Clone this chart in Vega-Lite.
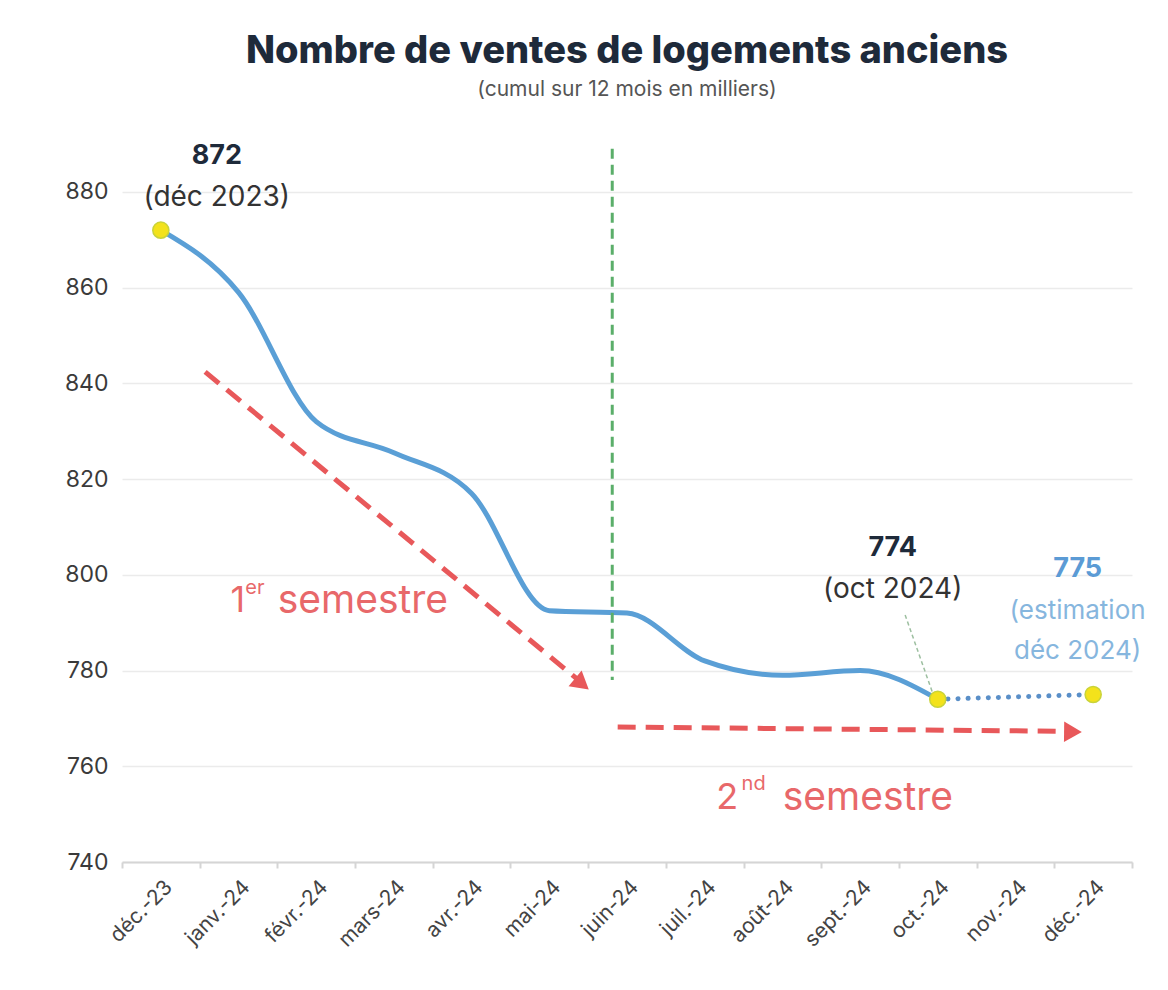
{
  "$schema": "https://vega.github.io/schema/vega-lite/v6.json",
  "width": 1010,
  "height": 718,
  "autosize": "none",
  "padding": {"left": 122, "top": 144, "right": 36, "bottom": 128},
  "background": "white",
  "config": {"view": {"stroke": null}, "font": "Inter"},
  "title": {
    "text": "Nombre de ventes de logements anciens",
    "subtitle": "(cumul sur 12 mois en milliers)",
    "font": "Inter",
    "fontSize": 38,
    "fontWeight": 800,
    "color": "#1E2A3A",
    "subtitleFont": "Inter",
    "subtitleFontSize": 21,
    "subtitleColor": "#555555",
    "subtitlePadding": 8,
    "anchor": "middle",
    "offset": 42
  },
  "datasets": {
    "serie": [
      {"mois": "déc.-23", "valeur": 872},
      {"mois": "janv.-24", "valeur": 859},
      {"mois": "févr.-24", "valeur": 832},
      {"mois": "mars-24", "valeur": 825.5},
      {"mois": "avr.-24", "valeur": 817},
      {"mois": "mai-24", "valeur": 792.5},
      {"mois": "juin-24", "valeur": 792},
      {"mois": "juil.-24", "valeur": 782},
      {"mois": "août-24", "valeur": 779},
      {"mois": "sept.-24", "valeur": 780},
      {"mois": "oct.-24", "valeur": 774}
    ],
    "estimation": [
      {"mois": "oct.-24", "valeur": 774},
      {"mois": "déc.-24", "valeur": 775}
    ],
    "points": [
      {"mois": "déc.-23", "valeur": 872},
      {"mois": "oct.-24", "valeur": 774},
      {"mois": "déc.-24", "valeur": 775}
    ],
    "separation": [{"p": 5.81, "haut": 889, "bas": 778}],
    "fleches": [
      {"k": "s1", "p": 0.57, "y": 842.4, "p2": 5.36, "y2": 778.2},
      {"k": "s2", "p": 5.88, "y": 768.2, "p2": 11.66, "y2": 767.3}
    ],
    "pointes": [
      {"k": "s1", "p": 5.42, "y": 777.2},
      {"k": "s2", "p": 11.74, "y": 767.2}
    ],
    "renvoi": [{"p": 9.58, "y": 791.6, "p2": 9.93, "y2": 775.5}],
    "chiffres": [
      {"t": "872", "p": 0.72, "y": 887.5},
      {"t": "774", "p": 9.42, "y": 805.5}
    ],
    "dates": [
      {"t": "(déc 2023)", "p": 0.72, "y": 878.8},
      {"t": "(oct 2024)", "p": 9.42, "y": 796.8}
    ],
    "estim_chiffre": [{"t": "775", "p": 11.8, "y": 801.2}],
    "estim_texte": [
      {"t": "(estimation", "p": 11.8, "y": 792.4},
      {"t": "déc 2024)", "p": 11.8, "y": 784.0}
    ],
    "sem_num": [
      {"t": "1", "p": 0.99, "y": 794.5},
      {"t": "2", "p": 7.29, "y": 753.4}
    ],
    "sem_sup": [
      {"t": "er", "p": 1.21, "y": 797.2},
      {"t": "nd", "p": 7.63, "y": 756.2}
    ],
    "sem_mot": [
      {"t": "semestre", "p": 2.6, "y": 794.5},
      {"t": "semestre", "p": 9.1, "y": 753.4}
    ]
  },
  "layer": [
    {
      "layer": [
        {
          "data": {"name": "serie"},
          "mark": {"type": "line", "interpolate": "monotone", "color": "#5A9FD6", "strokeWidth": 5, "strokeCap": "round"},
          "encoding": {
            "x": {
              "field": "mois", "type": "ordinal",
              "scale": {"type": "band", "domain": ["déc.-23", "janv.-24", "févr.-24", "mars-24", "avr.-24", "mai-24", "juin-24", "juil.-24", "août-24", "sept.-24", "oct.-24", "nov.-24", "déc.-24"], "paddingInner": 0, "paddingOuter": 0},
              "axis": {
                "title": null, "labelAngle": -45, "labelFontSize": 21, "labelColor": "#444444", "labelFont": "Inter",
                "tickBand": "extent", "tickColor": "#D5D5D5", "tickSize": 6, "tickWidth": 2,
                "domainColor": "#D5D5D5", "domainWidth": 2, "labelPadding": 8, "grid": false
              }
            },
            "y": {
              "field": "valeur", "type": "quantitative",
              "scale": {"domain": [740, 890], "nice": false, "zero": false},
              "axis": {
                "title": null, "values": [740, 760, 780, 800, 820, 840, 860, 880], "grid": true,
                "gridColor": "#EBEBEB", "gridWidth": 1.5, "domain": false, "ticks": false,
                "labelFontSize": 23, "labelColor": "#3A3A3A", "labelPadding": 14, "labelFont": "Inter"
              }
            }
          }
        },
        {
          "data": {"name": "estimation"},
          "mark": {"type": "line", "color": "#5A8FC8", "strokeWidth": 5, "strokeDash": [0.1, 10], "strokeCap": "round"},
          "encoding": {
            "x": {"field": "mois", "type": "ordinal", "scale": {"type": "band"}},
            "y": {"field": "valeur", "type": "quantitative"}
          }
        },
        {
          "data": {"name": "points"},
          "mark": {"type": "circle", "size": 260, "fill": "#F3E21B", "opacity": 1, "stroke": "#C9D33A", "strokeWidth": 1.5},
          "encoding": {
            "x": {"field": "mois", "type": "ordinal", "scale": {"type": "band"}},
            "y": {"field": "valeur", "type": "quantitative"}
          }
        }
      ]
    },
    {
      "layer": [
        {
          "data": {"name": "separation"},
          "mark": {"type": "rule", "color": "#5BAE6A", "strokeWidth": 3, "strokeDash": [10, 6]},
          "encoding": {
            "x": {"field": "p", "type": "quantitative", "scale": {"domain": [-0.5, 12.5], "nice": false, "zero": false}, "axis": null},
            "y": {"field": "haut", "type": "quantitative"},
            "y2": {"field": "bas"}
          }
        },
        {
          "data": {"name": "fleches"},
          "mark": {"type": "rule", "color": "#E8585A", "strokeWidth": 5, "strokeDash": [18, 10]},
          "encoding": {
            "x": {"field": "p", "type": "quantitative"},
            "y": {"field": "y", "type": "quantitative"},
            "x2": {"field": "p2"},
            "y2": {"field": "y2"}
          }
        },
        {
          "data": {"name": "pointes"},
          "transform": [{"filter": "datum.k == 's1'"}],
          "mark": {"type": "point", "shape": "triangle-right", "size": 420, "filled": true, "color": "#E8585A", "opacity": 1, "angle": 39.6},
          "encoding": {
            "x": {"field": "p", "type": "quantitative"},
            "y": {"field": "y", "type": "quantitative"}
          }
        },
        {
          "data": {"name": "pointes"},
          "transform": [{"filter": "datum.k == 's2'"}],
          "mark": {"type": "point", "shape": "triangle-right", "size": 420, "filled": true, "color": "#E8585A", "opacity": 1, "angle": 0.7},
          "encoding": {
            "x": {"field": "p", "type": "quantitative"},
            "y": {"field": "y", "type": "quantitative"}
          }
        },
        {
          "data": {"name": "renvoi"},
          "mark": {"type": "rule", "color": "#9DBFA0", "strokeWidth": 1.5, "strokeDash": [4, 3]},
          "encoding": {
            "x": {"field": "p", "type": "quantitative"},
            "y": {"field": "y", "type": "quantitative"},
            "x2": {"field": "p2"},
            "y2": {"field": "y2"}
          }
        },
        {
          "data": {"name": "chiffres"},
          "mark": {"type": "text", "fontSize": 27, "fontWeight": "bold", "color": "#1E2A3A", "font": "Inter"},
          "encoding": {
            "x": {"field": "p", "type": "quantitative"},
            "y": {"field": "y", "type": "quantitative"},
            "text": {"field": "t"}
          }
        },
        {
          "data": {"name": "dates"},
          "mark": {"type": "text", "fontSize": 28, "color": "#333333", "font": "Inter"},
          "encoding": {
            "x": {"field": "p", "type": "quantitative"},
            "y": {"field": "y", "type": "quantitative"},
            "text": {"field": "t"}
          }
        },
        {
          "data": {"name": "estim_chiffre"},
          "mark": {"type": "text", "fontSize": 27, "fontWeight": "bold", "color": "#5B9BD5", "font": "Inter"},
          "encoding": {
            "x": {"field": "p", "type": "quantitative"},
            "y": {"field": "y", "type": "quantitative"},
            "text": {"field": "t"}
          }
        },
        {
          "data": {"name": "estim_texte"},
          "mark": {"type": "text", "fontSize": 26, "color": "#86B6DE", "font": "Inter"},
          "encoding": {
            "x": {"field": "p", "type": "quantitative"},
            "y": {"field": "y", "type": "quantitative"},
            "text": {"field": "t"}
          }
        },
        {
          "data": {"name": "sem_num"},
          "mark": {"type": "text", "fontSize": 36, "color": "#E8686A", "font": "Inter"},
          "encoding": {
            "x": {"field": "p", "type": "quantitative"},
            "y": {"field": "y", "type": "quantitative"},
            "text": {"field": "t"}
          }
        },
        {
          "data": {"name": "sem_sup"},
          "mark": {"type": "text", "fontSize": 20, "color": "#E8686A", "font": "Inter"},
          "encoding": {
            "x": {"field": "p", "type": "quantitative"},
            "y": {"field": "y", "type": "quantitative"},
            "text": {"field": "t"}
          }
        },
        {
          "data": {"name": "sem_mot"},
          "mark": {"type": "text", "fontSize": 39, "color": "#E8686A", "font": "Inter"},
          "encoding": {
            "x": {"field": "p", "type": "quantitative"},
            "y": {"field": "y", "type": "quantitative"},
            "text": {"field": "t"}
          }
        }
      ]
    }
  ],
  "resolve": {"scale": {"x": "independent"}}
}
